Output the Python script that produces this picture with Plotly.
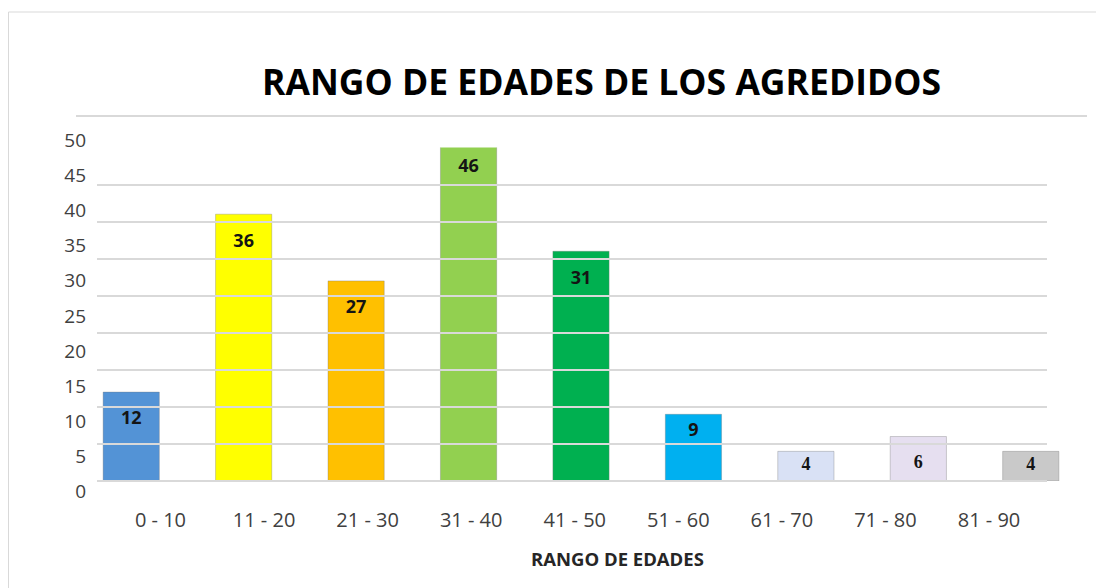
import plotly.graph_objects as go

# ---- data ----
categories = ["0 - 10", "11 - 20", "21 - 30", "31 - 40", "41 - 50",
              "51 - 60", "61 - 70", "71 - 80", "81 - 90"]
counts = [12, 36, 27, 46, 31, 9, 4, 6, 4]
y_tick_values = [0, 5, 10, 15, 20, 25, 30, 35, 40, 45, 50]

title_text = "RANGO DE EDADES DE LOS AGREDIDOS"
x_title_text = "RANGO DE EDADES"

# ---- styles ----
bar_colors = ["#5393d6", "#ffff00", "#ffc000", "#92d050", "#00b050",
              "#00b0f0", "#d9e1f5", "#e6dff0", "#c9c9c9"]
label_fonts = ["Open Sans"] * 6 + ["Liberation Serif"] * 3
label_pad = [True, True, True, True, True, False, False, True, False]

OFF = 8  # page body margin
W, H = 1104 - OFF, 588 - OFF


def fx(px):
    return (px - OFF) / W


def fy(px):
    return 1 - (px - OFF) / H


pad_prefix = "<span style='font-size:6px'>\u00a0</span><br>"
label_texts = [(pad_prefix if p else "") + str(v) for v, p in zip(counts, label_pad)]

fig = go.Figure()
fig.add_trace(go.Bar(
    x=categories,
    y=counts,
    marker=dict(color=bar_colors, line=dict(color="rgba(120,120,120,0.35)", width=1)),
    text=label_texts,
    textposition="inside",
    insidetextanchor="end",
    textangle=0,
    constraintext="none",
    textfont=dict(family=label_fonts, size=18, color="#141414", weight="bold"),
    hoverinfo="x+y",
    xaxis="x",
    yaxis="y",
))
# empty traces so the helper axes (grid, tick labels, top rule) get drawn
for k in ["2", "3", "4", "5"]:
    fig.add_trace(go.Scatter(x=[], y=[], xaxis="x" + k, yaxis="y" + k,
                             hoverinfo="skip", showlegend=False))

fig.update_layout(
    template="none",
    width=W, height=H, autosize=False,
    margin=dict(l=0, r=0, t=0, b=0, pad=0),
    paper_bgcolor="white",
    plot_bgcolor="rgba(0,0,0,0)",
    showlegend=False,
    bargap=0.5,
    title=dict(text=title_text, x=fx(601.5), xanchor="center", xref="container",
               y=fy(83), yanchor="middle", yref="container",
               font=dict(family="Open Sans", size=35.5, color="#000000", weight="bold")),
    # main bars subplot
    xaxis=dict(domain=[fx(75), fx(1087)], anchor="y", visible=False, automargin=False),
    yaxis=dict(domain=[fy(481), fy(147.5)], anchor="x", range=[0, 45], visible=False,
               automargin=False),
    # gridlines (drawn above bars)
    xaxis2=dict(domain=[fx(97), fx(1047)], anchor="y2", range=[0, 1], showgrid=False,
                zeroline=False, showline=False, showticklabels=False, ticks="",
                automargin=False),
    yaxis2=dict(domain=[fy(481), fy(147.5)], anchor="x2", range=[0, 45], tick0=0, dtick=5,
                showgrid=True, gridcolor="#d9d9d9", gridwidth=1.5,
                zeroline=True, zerolinecolor="#d9d9d9", zerolinewidth=1.5,
                showline=False, showticklabels=False, ticks="", automargin=False),
    # y tick labels
    xaxis3=dict(domain=[fx(87), fx(89)], anchor="y3", range=[0, 1], visible=False,
                automargin=False),
    yaxis3=dict(domain=[fy(491.7), fy(140)], anchor="x3", range=[0, 50],
                tickvals=y_tick_values, showgrid=False, zeroline=False, showline=False,
                ticks="", tickfont=dict(family="Open Sans", size=19, color="#404040"),
                automargin=False),
    # x tick labels
    xaxis4=dict(domain=[fx(108.7), fx(1040.8)], anchor="y4", range=[-0.5, len(categories) - 0.5],
                tickvals=list(range(len(categories))), ticktext=categories,
                showgrid=False, zeroline=False, showline=False, ticks="",
                tickfont=dict(family="Open Sans", size=20, color="#404040"),
                automargin=False),
    yaxis4=dict(domain=[fy(506), fy(500)], anchor="x4", range=[0, 1], visible=False,
                automargin=False),
    # top line
    xaxis5=dict(domain=[fx(76), fx(1087)], anchor="y5", side="top", range=[0, 1],
                showline=True, linecolor="#d9d9d9", linewidth=1.5, showgrid=False,
                zeroline=False, showticklabels=False, ticks="", automargin=False),
    yaxis5=dict(domain=[fy(130), fy(117)], anchor="x5", range=[0, 1], visible=False,
                automargin=False),
)

fig.add_annotation(text=x_title_text, x=fx(617.5), y=fy(558), xref="paper", yref="paper",
                   xanchor="center", yanchor="middle", showarrow=False,
                   font=dict(family="Open Sans", size=18.5, color="#262626", weight="bold"))

fig.add_shape(type="rect", xref="paper", yref="paper",
              x0=fx(8.5), x1=1.05, y0=-0.05, y1=fy(12),
              line=dict(color="#d9d9d9", width=1), fillcolor="rgba(0,0,0,0)")

fig.write_html("out.html")
